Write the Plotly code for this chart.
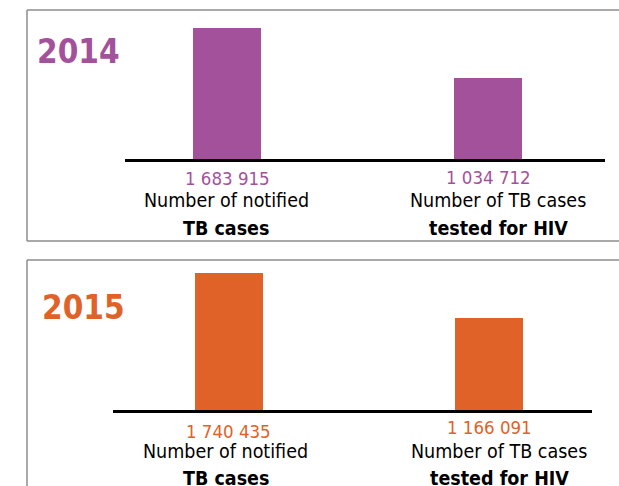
import plotly.graph_objects as go

OFF = 0
W, H = 619, 486

categories = ["Number of notified TB cases", "Number of TB cases tested for HIV"]
cat_line1 = ["Number of notified", "Number of TB cases"]
cat_line2 = ["TB cases", "tested for HIV"]
years = ["2014", "2015"]
values_2014 = [1683915, 1034712]
values_2015 = [1740435, 1166091]
value_labels_2014 = ["1 683 915", "1 034 712"]
value_labels_2015 = ["1 740 435", "1 166 091"]
colors = {"2014": "#A4519C", "2015": "#E06228"}

FONT = "Liberation Sans Narrow, DejaVu Sans Condensed, Arial Narrow, sans-serif"


def px(x):
    return (x - OFF) / W


def py(y):
    return 1 - (y - OFF) / H


fig = go.Figure()

panels = [
    dict(ax="", vals=values_2014, labs=value_labels_2014, year="2014",
         xdom=(125, 605), xr=(-0.391, 1.448), ydom=(159, 20), ymax=1683915 * 139 / 131.5,
         val_y=[178, 177], l1_y=200, l2_y=228, l_shift=[-1, 10],
         year_xy=(78, 51), box=(27, 10, 700, 241)),
    dict(ax="2", vals=values_2015, labs=value_labels_2015, year="2015",
         xdom=(113, 592), xr=(-0.446, 1.396), ydom=(410, 265), ymax=1740435 * 145 / 137,
         val_y=[431, 427], l1_y=451, l2_y=478, l_shift=[-3, 10],
         year_xy=(83, 307), box=(27, 260, 700, 560)),
]

annotations = []
shapes = []
line_style = dict(color="#8c8c8c", width=1.5)
for p in panels:
    c = colors[p["year"]]
    xa = "x" + p["ax"]
    ya = "y" + p["ax"]
    fig.add_trace(go.Bar(
        x=[0, 1], y=p["vals"], width=0.26, marker=dict(color=c, line=dict(width=0)),
        xaxis=xa, yaxis=ya, showlegend=False, hoverinfo="skip",
    ))
    fig.layout["xaxis" + p["ax"]] = dict(
        domain=[px(p["xdom"][0]), px(p["xdom"][1])], range=list(p["xr"]),
        showline=True, linecolor="black", linewidth=2.5, showticklabels=False,
        ticks="", showgrid=False, zeroline=False, anchor=ya, fixedrange=True,
    )
    fig.layout["yaxis" + p["ax"]] = dict(
        domain=[py(p["ydom"][0]), py(p["ydom"][1])], range=[0, p["ymax"]],
        visible=False, showgrid=False, zeroline=False, anchor=xa, fixedrange=True,
    )
    for i in range(2):
        annotations.append(dict(
            x=i, xref=xa, y=py(p["val_y"][i]), yref="paper", text=p["labs"][i],
            showarrow=False, font=dict(family=FONT, size=18.5, color=c),
            xanchor="center", yanchor="middle",
        ))
        annotations.append(dict(
            x=i, xref=xa, y=py(p["l1_y"]), yref="paper", text=cat_line1[i],
            showarrow=False, font=dict(family=FONT, size=19.5, color="black"),
            xanchor="center", yanchor="middle", xshift=p["l_shift"][i],
        ))
        annotations.append(dict(
            x=i, xref=xa, y=py(p["l2_y"]), yref="paper", text="<b>" + cat_line2[i] + "</b>",
            showarrow=False, font=dict(family=FONT, size=19.5, color="black"),
            xanchor="center", yanchor="middle", xshift=p["l_shift"][i],
        ))
    annotations.append(dict(
        x=px(p["year_xy"][0]), y=py(p["year_xy"][1]), xref="paper", yref="paper",
        text="<b>" + p["year"] + "</b>", showarrow=False,
        font=dict(family=FONT, size=33, color=c), xanchor="center", yanchor="middle",
    ))
    bx0, by0, bx1, by1 = p["box"]
    # frame: top, left and bottom edges (right edge lies beyond the picture)
    for (x0, y0, x1, y1) in [(bx0, by0, bx1, by0), (bx0, by0, bx0, by1), (bx0, by1, bx1, by1)]:
        shapes.append(dict(
            type="line", xref="paper", yref="paper", x0=px(x0), x1=px(x1),
            y0=py(y0), y1=py(y1), line=line_style, layer="below",
        ))

fig.update_layout(
    width=W, height=H, margin=dict(l=0, r=0, t=0, b=0),
    paper_bgcolor="white", plot_bgcolor="rgba(0,0,0,0)",
    annotations=annotations, shapes=shapes, bargap=0,
)

fig.write_html(
    "out.html",
    config={"displayModeBar": False, "staticPlot": True},
    post_script="document.body.style.margin='0';document.body.style.overflow='hidden';",
)
